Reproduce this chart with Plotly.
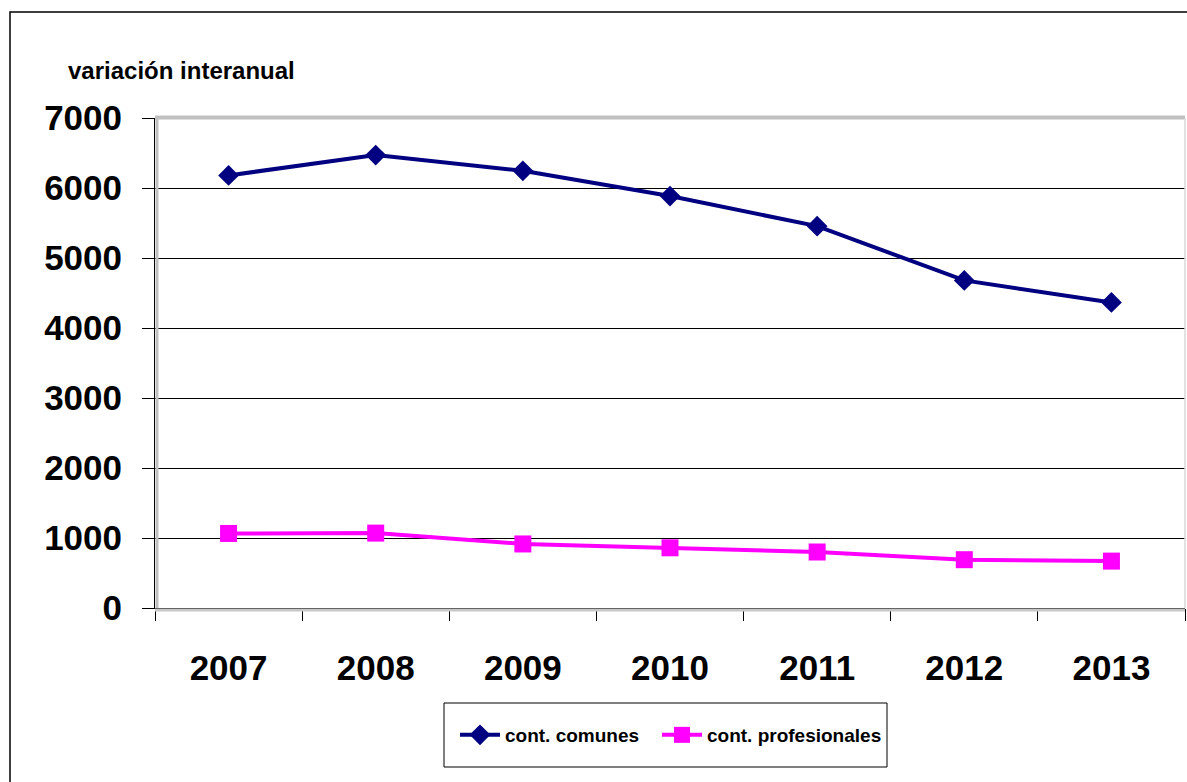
import plotly.graph_objects as go

years = ["2007", "2008", "2009", "2010", "2011", "2012", "2013"]
comunes = [6180, 6470, 6245, 5885, 5455, 4680, 4365]
profesionales = [1065, 1070, 915, 860, 800, 690, 670]
y_ticks = [0, 1000, 2000, 3000, 4000, 5000, 6000, 7000]

FONT = "Liberation Sans, Arial, sans-serif"

fig = go.Figure()
fig.add_trace(go.Scatter(
    x=years, y=comunes, name="cont. comunes", mode="lines+markers",
    line=dict(color="#000080", width=4),
    marker=dict(symbol="diamond", size=16, color="#000080"),
    legend="legend",
))
fig.add_trace(go.Scatter(
    x=years, y=profesionales, name="cont. profesionales", mode="lines+markers",
    line=dict(color="#FF00FF", width=4),
    marker=dict(symbol="square", size=17, color="#FF00FF"),
    legend="legend2",
))

L, R, T, B = 155, 2, 118, 174
W, H = 1187, 782
pw, ph = W - L - R, H - T - B

def px(x):
    return (x - L) / pw

def py(y):
    return (H - B - y) / ph

shapes = [
    # outer chart frame
    dict(type="rect", xref="paper", yref="paper", x0=px(10), x1=px(1210),
         y0=py(800), y1=py(12), line=dict(color="#000000", width=1.5), layer="below"),
    # plot-area border
    dict(type="line", xref="paper", yref="paper", x0=0, x1=1, y0=py(117.5), y1=py(117.5),
         line=dict(color="#c0c0c0", width=4), layer="above"),
    dict(type="line", xref="paper", yref="paper", x0=px(157), x1=px(157), y0=0, y1=1,
         line=dict(color="#c0c0c0", width=3), layer="above"),
    dict(type="line", xref="paper", yref="paper", x0=px(1185), x1=px(1185), y0=0, y1=1,
         line=dict(color="#d9d9d9", width=1.5), layer="above"),
    dict(type="line", xref="paper", yref="paper", x0=0, x1=1, y0=py(610), y1=py(610),
         line=dict(color="#c8c8c8", width=3), layer="above"),
    # legend box
    dict(type="rect", xref="paper", yref="paper", x0=px(444), x1=px(887),
         y0=py(767), y1=py(703), line=dict(color="#000000", width=1), layer="below"),
]

legend_style = dict(
    orientation="h", xanchor="left", yanchor="middle", y=py(735),
    font=dict(family=FONT, size=19, weight="bold", color="#000000"),
    bgcolor="rgba(0,0,0,0)", borderwidth=0, itemwidth=40,
)

fig.update_layout(
    width=W, height=H,
    margin=dict(l=L, r=R, t=T, b=B, pad=0),
    paper_bgcolor="white", plot_bgcolor="white",
    font=dict(family=FONT, color="#000000", weight="bold"),
    showlegend=True,
    legend=dict(x=px(455), **legend_style),
    legend2=dict(x=px(657), **legend_style),
    xaxis=dict(
        type="category", range=[-0.5, 6.5], tickson="boundaries",
        ticks="outside", ticklen=12, tickcolor="#000000", tickwidth=1,
        showline=True, linecolor="#000000", linewidth=1,
        showgrid=False, zeroline=False,
        tickfont=dict(family=FONT, size=35, weight="bold", color="#000000"),
        ticklabelstandoff=29,
    ),
    yaxis=dict(
        range=[0, 7000], tickvals=y_ticks, ticktext=[str(v) for v in y_ticks],
        ticks="outside", ticklen=12, tickcolor="#000000", tickwidth=1,
        showline=True, linecolor="#000000", linewidth=1,
        showgrid=True, gridcolor="#000000", gridwidth=1, zeroline=False,
        tickfont=dict(family=FONT, size=35, weight="bold", color="#000000"),
        ticklabelstandoff=13,
    ),
    shapes=shapes,
    annotations=[dict(
        text="variación interanual", xref="paper", yref="paper",
        x=px(66), y=py(71), xanchor="left", yanchor="middle", showarrow=False,
        font=dict(family=FONT, size=24, weight="bold", color="#000000"),
    )],
)

fig.write_html("out.html")
